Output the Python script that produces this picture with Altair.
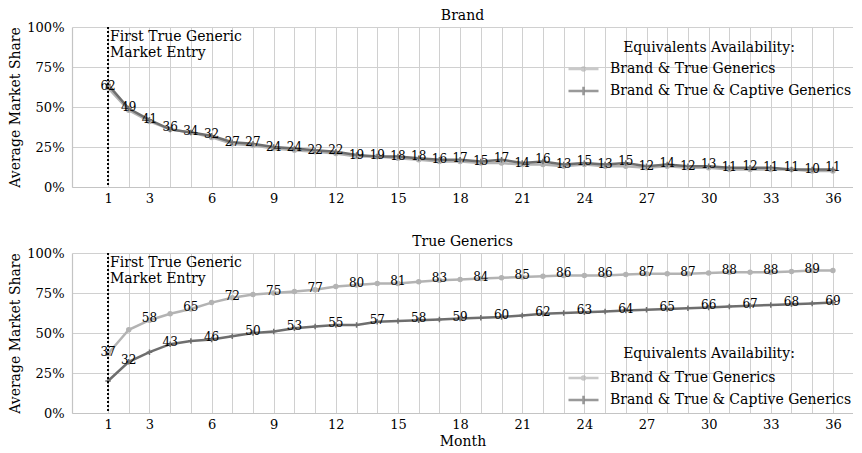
import altair as alt
import pandas as pd

# ---------------- data ----------------
months = list(range(1, 37))
tick_months = [1, 3, 6, 9, 12, 15, 18, 21, 24, 27, 30, 33, 36]
y_ticks = [0, 0.25, 0.5, 0.75, 1.0]
series_names = ["Brand & True Generics", "Brand & True & Captive Generics"]
series_colors = ["#b3b3b3", "#6e6e6e"]
entry_month = [1]
annotation_lines = ["First True Generic", "Market Entry"]
panel_titles = ["Brand", "True Generics"]

# Brand panel (percent)
brand_true = [62, 48, 41, 36, 34, 31, 27, 26, 24, 23, 22, 21, 19, 19, 18, 17, 16, 16,
              15, 15, 14, 14, 13, 14, 13, 13, 12, 13, 12, 12, 11, 11, 11, 11, 10, 10]
brand_captive = [64, 49, 42, 36, 34, 32, 28, 27, 25, 24, 23, 22, 20, 19, 19, 18, 17, 17,
                 16, 17, 15, 16, 14, 15, 14, 15, 13, 14, 13, 13, 12, 12, 12, 11, 11, 11]
# True Generics panel (percent)
generic_true = [37, 52, 58, 62, 65, 69, 72, 74, 75, 76, 77, 79, 80, 81, 81, 82, 83, 83.5,
                84, 84.5, 85, 85.5, 86, 86, 86, 86.5, 87, 87, 87, 87.5, 88, 88, 88, 88.5, 89, 89]
generic_captive = [20, 32, 38, 43, 45, 46, 48, 50, 51, 53, 54, 55, 55, 57, 57.5, 58, 58.5, 59,
                   59.5, 60, 61, 62, 62.5, 63, 63.5, 64, 64.5, 65, 65.5, 66, 66.5, 67, 67.5, 68, 68.5, 69]

FONT = "DejaVu Serif"


def make_df(a, b):
    rows = []
    for s, vals in zip(series_names, [a, b]):
        for m, v in zip(months, vals):
            rows.append({"month": m, "series": s, "share": v / 100.0,
                         "label": str(int(round(v)))})
    return pd.DataFrame(rows)


label_expr = "indexof([" + ",".join(str(t) for t in tick_months) + "], datum.value) >= 0 ? datum.label : ''"
label_filter = (f"(datum.series == '{series_names[0]}' && datum.month % 2 == 1) || "
                f"(datum.series == '{series_names[1]}' && datum.month % 2 == 0)")
plus_path = "M-1,0L1,0M0,-1L0,1"
legend_dot_path = "M-1,0L1,0M-0.1,0A0.1,0.1,0,1,0,0.1,0A0.1,0.1,0,1,0,-0.1,0"
legend_plus_path = "M-1,0L1,0M0,-0.28L0,0.28"


def panel(df, title, legend_y, legend_title_pad, x_title):
    base = alt.Chart(df)
    x = alt.X("month:Q",
              scale=alt.Scale(domain=[-0.74, 36.97], nice=False, zero=False),
              axis=alt.Axis(values=months, labelExpr=label_expr, grid=True, ticks=False,
                            labelPadding=5, labelFlush=False, labelOverlap=False,
                            labelFontSize=13,
                            title=x_title if x_title else None, titlePadding=3))
    y = alt.Y("share:Q",
              scale=alt.Scale(domain=[0, 1], nice=False),
              axis=alt.Axis(values=y_ticks, labelExpr="format(datum.value, '.0%')", ticks=False,
                            labelPadding=8, labelOverlap=False, labelFontSize=13,
                            labelFlush=False, labelBound=False,
                            title="Average Market Share", titlePadding=4))
    legend = alt.Legend(orient="none", legendX=495, legendY=legend_y,
                        title="Equivalents Availability:",
                        titleAnchor="middle", titleFont=FONT,
                        titleFontSize=14, titleFontWeight="normal",
                        titleColor="black", titlePadding=legend_title_pad,
                        labelFont=FONT, labelFontSize=14, labelColor="black", labelLimit=400,
                        symbolSize=900, symbolStrokeWidth=2.5, labelOffset=10,
                        clipHeight=22, rowPadding=0)
    series_scale = alt.Scale(domain=series_names, range=series_colors)
    lines = base.mark_line(strokeWidth=2.5).encode(
        x=x, y=y,
        stroke=alt.Stroke("series:N", scale=series_scale, legend=legend))
    # legend-only layer (no rows): gives the legend its line+marker symbols
    legend_keys = base.transform_filter("false").mark_point(filled=False, strokeWidth=2.5).encode(
        x=x, y=y,
        stroke=alt.Stroke("series:N", scale=series_scale, legend=legend),
        shape=alt.Shape("series:N",
                        scale=alt.Scale(domain=series_names, range=[legend_dot_path, legend_plus_path]),
                        legend=legend))
    dots = base.transform_filter(f"datum.series == '{series_names[0]}'").mark_point(
        shape="circle", filled=True, size=30, color=series_colors[0], opacity=1
    ).encode(x=x, y=y)
    pluses = base.transform_filter(f"datum.series == '{series_names[1]}'").mark_point(
        shape=plus_path, filled=False, size=30, strokeWidth=1.5, color=series_colors[1], opacity=1
    ).encode(x=x, y=y)
    labels = base.transform_filter(label_filter).mark_text(
        font=FONT, fontSize=12, color="black", align="center", baseline="middle", dy=-2
    ).encode(x=x, y=y, text="label:N")
    edf = pd.DataFrame({"month": entry_month, "share": [1.0]})
    rule = alt.Chart(edf).mark_rule(color="black", strokeWidth=2, strokeDash=[2, 2]).encode(x=x)
    note = alt.Chart(edf).mark_text(font=FONT, fontSize=14, color="black", align="left",
                                    baseline="top", dx=2, dy=3, lineHeight=16).encode(
        x=x, y=y, text=alt.value(annotation_lines))
    return alt.layer(lines, legend_keys, dots, pluses, rule, labels, note).properties(
        width=781, height=160,
        title=alt.Title(title, font=FONT, fontSize=14, fontWeight="normal", color="black",
                        offset=-2, anchor="middle"))


top = panel(make_df(brand_true, brand_captive), panel_titles[0], 14, 3, None)
bottom = panel(make_df(generic_true, generic_captive), panel_titles[1], 94, 6, "Month")

chart = alt.vconcat(top, bottom, spacing=30).resolve_scale(
    stroke="independent", shape="independent"
).resolve_legend(stroke="independent", shape="independent").properties(
    padding={"left": 0, "top": 1, "right": 0, "bottom": 0}
).configure_view(stroke=None).configure_axis(
    labelFont=FONT, labelFontSize=13, labelColor="black", labelOverlap=False,
    titleFont=FONT, titleFontSize=14, titleFontWeight="normal", titleColor="black",
    gridColor="#d0d0d0", gridWidth=1, domainColor="#c4c4c4", domainWidth=1.2
)

chart.save("out.html", embed_options={"renderer": "svg", "actions": False})
